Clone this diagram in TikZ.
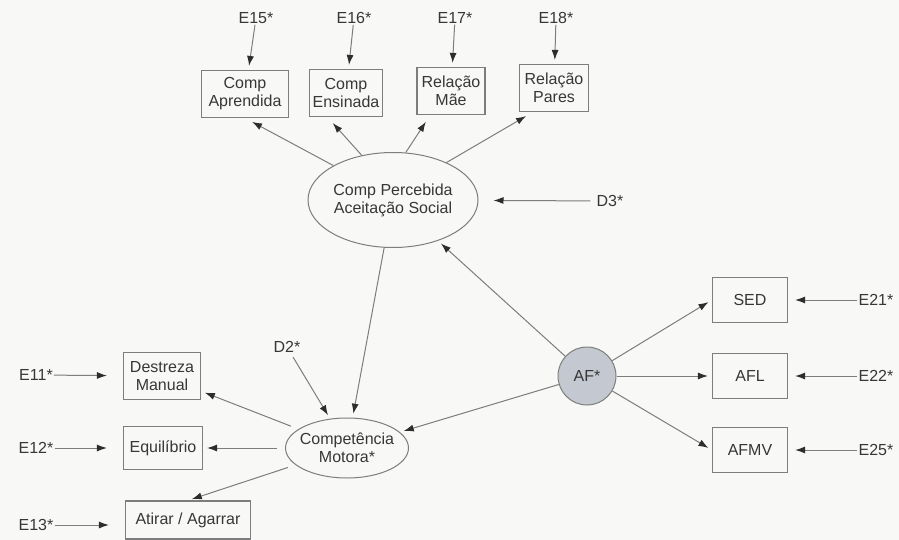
\documentclass[tikz,border=0pt]{standalone}
\usepackage{fontspec}
\setmainfont{Liberation Sans}
\usetikzlibrary{arrows.meta,calc,shapes.geometric}
\definecolor{semline}{RGB}{125,125,125}
\definecolor{semtip}{RGB}{45,45,45}
\definecolor{semtext}{RGB}{55,55,55}
\definecolor{semfill}{RGB}{196,200,208}
\definecolor{paper}{RGB}{248,248,247}
\tikzset{
  latent/.style={ellipse, draw=semline, line width=1pt, inner sep=0pt, align=center,
                 font=\fontsize{16}{18}\selectfont, text=semtext},
  factor/.style={circle, draw=semline, fill=semfill, line width=1pt, minimum size=58pt,
                 inner sep=0pt, font=\fontsize{16}{18}\selectfont, text=semtext},
  obs/.style={draw=semline, line width=1.2pt, minimum height=47pt, inner sep=2pt,
              align=center, font=\fontsize{16}{18}\selectfont, text=semtext},
  err/.style={inner sep=1pt, font=\fontsize{16}{18}\selectfont, text=semtext},
  arr/.style={-{Latex[length=10pt,width=7pt,color=semtip]}, line width=1pt, draw=semline,
              shorten >=4pt}
}

\begin{document}
\begin{tikzpicture}[x=1pt,y=-1pt]
    \fill[paper] (0,0) rectangle (899,540);
    \useasboundingbox (0,0) rectangle (899,540);
    % latent variables
    \node[latent, minimum width=170pt, minimum height=95pt] (cp) at (393,200) {Comp Percebida\\Aceitação Social};
    \node[latent, minimum width=123pt, minimum height=60pt, inner xsep=-4pt] (cm) at (347,448) {Competência\\Motora*};
    \node[factor] (af) at (587,376) {AF*};
    % indicators
    \node[obs, minimum width=87pt] (ca) at (245,94) {Comp\\Aprendida};
    \node[obs, minimum width=73pt] (ce) at (346,93) {Comp\\Ensinada};
    \node[obs, minimum width=68pt] (rm) at (451,91) {Relação\\Mãe};
    \node[obs, minimum width=69pt] (rp) at (554,88) {Relação\\Pares};
    \node[obs, minimum width=77pt] (dm) at (162,376) {Destreza\\Manual};
    \node[obs, minimum width=79pt, minimum height=43pt] (eq) at (163,448) {Equilíbrio};
    \node[obs, minimum width=125pt, minimum height=38pt] (aa) at (188,520) {Atirar / Agarrar};
    \node[obs, minimum width=75pt, minimum height=45pt] (sed) at (750,300) {SED};
    \node[obs, minimum width=75pt, minimum height=45pt] (afl) at (750,376) {AFL};
    \node[obs, minimum width=75pt, minimum height=45pt] (afmv) at (750,450) {AFMV};
    % errors and disturbances
    \node[err] (e15) at (256,18) {E15*};
    \node[err] (e16) at (354,18) {E16*};
    \node[err] (e17) at (455,18) {E17*};
    \node[err] (e18) at (556,18) {E18*};
    \node[err] (e11) at (36,375) {E11*};
    \node[err] (e12) at (36,448) {E12*};
    \node[err] (e13) at (36,525) {E13*};
    \node[err] (e21) at (876,300) {E21*};
    \node[err] (e22) at (876,376) {E22*};
    \node[err] (e25) at (876,450) {E25*};
    \node[err] (d3) at (610,201) {D3*};
    \node[err] (d2) at (287,347) {D2*};
    \draw[arr] (e15) -- (ca); \draw[arr] (e16) -- (ce);
    \draw[arr] (e17) -- (rm); \draw[arr] (e18) -- (rp);
    \draw[arr, shorten >=16pt] (e11) -- (dm);
    \draw[arr, shorten >=16pt] (e12) -- (eq);
    \draw[arr, shorten >=16pt] (e13) -- (aa.west |- e13);
    \draw[arr, shorten >=7pt] (e21) -- (sed);
    \draw[arr, shorten >=7pt] (e22) -- (afl);
    \draw[arr, shorten >=7pt] (e25) -- (afmv);
    \draw[arr, shorten <=5pt, shorten >=15pt] (d3) -- (cp);
    \draw[arr, shorten <=4pt] (d2) -- (cm.120);
    % paths between variables
    \draw[arr, shorten >=8pt] (cp.150) -- (ca.south);
    \draw[arr, shorten >=8pt] (cp.125) -- ($(ce.south)!0.5!(ce.south west)$);
    \draw[arr, shorten >=8pt] (cp.75) -- ($(rm.south)!0.6!(rm.south west)$);
    \draw[arr, shorten >=8pt] (cp.35) -- ($(rp.south)!0.6!(rp.south west)$);
    \draw[arr] (cp) -- (cm);
    \draw[arr, shorten <=8pt] (cm) -- (dm);
    \draw[arr, shorten <=8pt] (cm) -- (eq);
    \draw[arr, shorten <=8pt] (cm) -- (aa.north);
    \draw[arr] (af) -- (cp);
    \draw[arr] (af) -- (cm);
    \draw[arr] (af) -- (sed.west);
    \draw[arr] (af) -- (afl);
    \draw[arr] (af) -- (afmv.west);
\end{tikzpicture}
\end{document}
